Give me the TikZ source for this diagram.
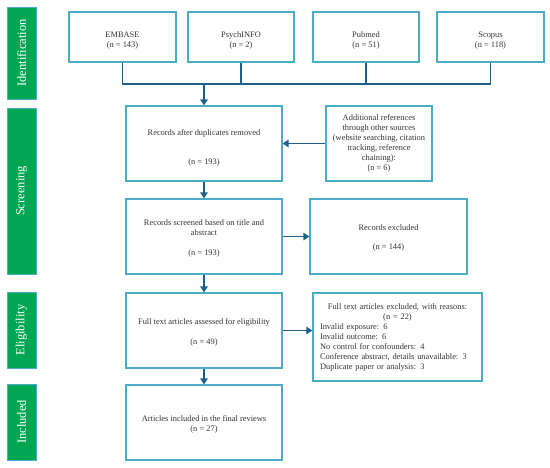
\documentclass[tikz,border=0pt]{standalone}
\usepackage{fontspec}
\setmainfont{Liberation Serif}
\usetikzlibrary{arrows.meta,positioning}
\definecolor{boxblue}{RGB}{75,172,198}
\definecolor{arrblue}{RGB}{31,95,140}
\definecolor{phgreen}{RGB}{0,166,81}
\definecolor{txtgray}{RGB}{51,51,51}
\newcommand\topstrut[1]{\rule{0pt}{#1}}
\tikzset{
  flowbox/.style={draw=boxblue, line width=1.3pt, fill=white, rectangle, align=center, inner sep=2pt,
    text=txtgray, font=\fontsize{8.4}{10}\selectfont},
  phase/.style={draw=boxblue, line width=1pt, fill=phgreen, rectangle, rotate=90, text=white,
    font=\fontsize{12.5}{14}\selectfont, inner sep=0pt},
  conn/.style={draw=arrblue, line width=1.8pt},
  arr/.style={conn, -{Triangle[width=7.5pt,length=6pt]}},
}
\begin{document}
\begin{tikzpicture}[x=1pt,y=-1pt]
\useasboundingbox (0,0) rectangle (550,467);
% phase bars
\node[phase, minimum width=92, minimum height=29] (pid) at (21.5,53) {Identification};
\node[phase, minimum width=166, minimum height=29] (psc) at (21.5,191) {Screening};
\node[phase, minimum width=76, minimum height=29] (pel) at (21.5,330) {Eligibility};
\node[phase, minimum width=76, minimum height=29] (pin) at (21.5,422) {Included};
% top boxes
\node[flowbox, minimum width=107, minimum height=50] (embase) at (122.5,37) {\topstrut{12pt}EMBASE\\(n = 143)};
\node[flowbox, minimum width=106, minimum height=50] (psych) at (241,37) {\topstrut{12pt}PsychINFO\\(n = 2)};
\node[flowbox, minimum width=106, minimum height=50] (pubmed) at (366,37) {\topstrut{12pt}Pubmed\\(n = 51)};
\node[flowbox, minimum width=107, minimum height=50] (scopus) at (490.5,37) {\topstrut{12pt}Scopus\\(n = 118)};
\coordinate (jn) at (204,84);
% main column
\node[flowbox, minimum width=156, minimum height=75] (dup) at (204,143.5) {\topstrut{14pt}Records after duplicates removed\\[19pt](n = 193)};
\node[flowbox, minimum width=106, minimum height=75] (add) at (379,143.5) {Additional references\\through other sources\\(website searching, citation\\tracking, reference\\chaining):\\(n = 6)};
\node[flowbox, minimum width=156, minimum height=75] (scr) at (204,236.5) {\topstrut{10pt}Records screened based on title and\\abstract\\[10pt](n = 193)};
\node[flowbox, minimum width=157, minimum height=75] (exc) at (388.5,236.5) {\topstrut{8pt}Records excluded\\[9pt](n = 144)};
\node[flowbox, minimum width=156, minimum height=75] (full) at (204,330.5) {\topstrut{10pt}Full text articles assessed for eligibility\\[10pt](n = 49)};
\node[flowbox, align=left, text width=155pt, inner xsep=7pt, minimum height=88] (exc2) at (397.5,337)
  {\makebox[155pt][c]{Full text articles excluded, with reasons:}\\
   \makebox[155pt][c]{(n = 22)}\\
   Invalid exposure: 6\\
   Invalid outcome: 6\\
   No control for confounders: 4\\
   Conference abstract, details unavailable: 3\\
   Duplicate paper or analysis: 3};
\node[flowbox, minimum width=156, minimum height=75] (incl) at (204,422.5) {\topstrut{10pt}Articles included in the final reviews\\(n = 27)};
% connectors
\draw[conn] (embase.south) |- (jn) -| (scopus.south);
\draw[conn] (psych.south) -- (psych.south |- jn);
\draw[conn] (pubmed.south) -- (pubmed.south |- jn);
\draw[arr] (jn) -- (dup.north);
\draw[arr] (add.west) -- (add.west -| dup.east);
\draw[arr] (dup.south) -- (scr.north);
\draw[arr] (scr.east) -- (scr.east -| exc.west);
\draw[arr] (scr.south) -- (full.north);
\draw[arr] (full.east) -- (full.east -| exc2.west);
\draw[arr] (full.south) -- (incl.north);
\end{tikzpicture}
\end{document}
